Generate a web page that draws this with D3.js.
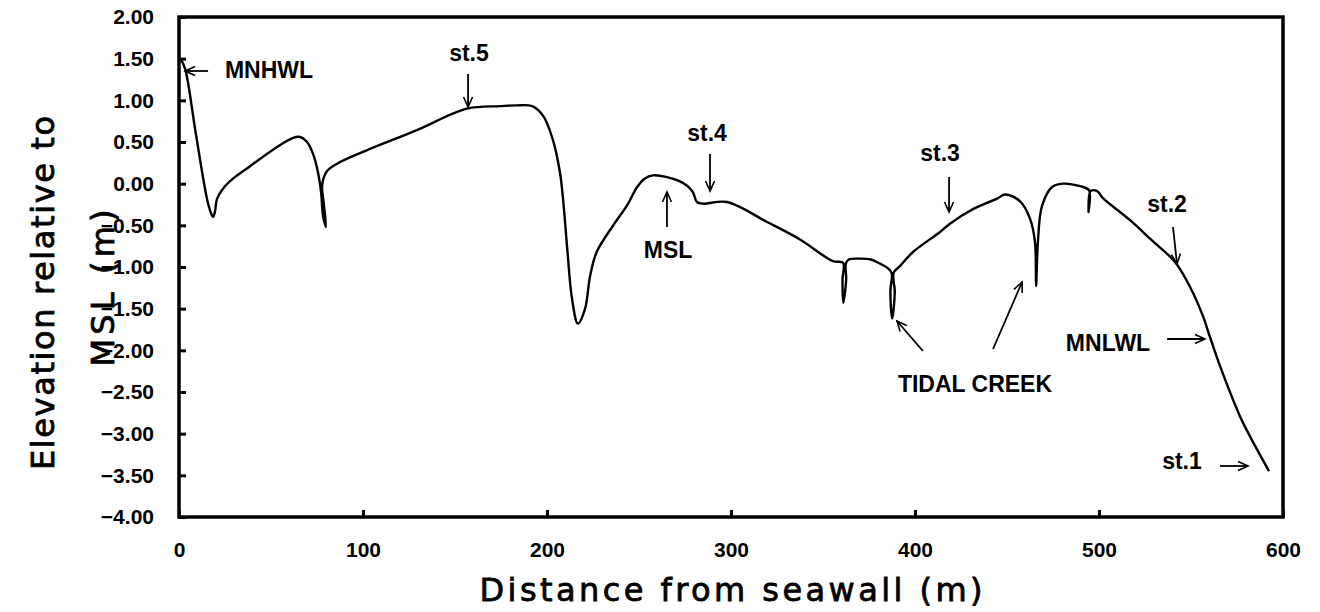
<!DOCTYPE html>
<html>
<head>
<meta charset="utf-8">
<script src="https://cdn.jsdelivr.net/npm/d3@7"></script>
<style>
    body { margin: 0; background: #fff; }
    svg { display: block; }
</style>
</head>
<body>
<div id="chart"></div>
<script>
// beach profile, values (m from seawall, m rel. MSL)
const distance = [
    0.8, 3.3, 9.0, 15.2, 17.5, 18.5, 19.5, 20.7, 23.9, 29.3,
    38.6, 53.3, 62.0, 65.8, 69.6, 72.8, 75.5, 77.2, 78.3, 79.9,
    78.6, 77.8, 80.4, 85.9, 102.0, 129.0, 156.5, 174.5, 183.5, 192.0,
    198.0, 203.0, 207.0, 208.7, 211.0, 213.6, 216.8, 220.7, 223.4, 227.0,
    236.0, 243.5, 249.0, 253.0, 257.6, 272.0, 279.0, 281.5, 284.8, 297.8,
    319.6, 337.5, 355.4, 360.9, 360.6, 361.0, 362.6, 362.4, 364.0, 370.0,
    376.0, 381.0, 385.0, 387.3, 386.6, 387.6, 389.0, 388.4, 391.8, 398.9,
    413.6, 419.0, 432.0, 444.6, 449.0, 457.0, 462.5, 465.2, 465.8, 466.8,
    469.0, 474.5, 480.4, 489.7, 494.6, 494.3, 495.4, 499.0, 502.0, 517.5,
    527.7, 541.3, 549.5, 556.5, 560.3, 565.8, 576.6, 582.0, 592.4
];
const elevation = [
    1.50, 1.38, 0.62, -0.18, -0.36, -0.40, -0.34, -0.18, -0.06, 0.06,
    0.21, 0.44, 0.55, 0.56, 0.50, 0.36, 0.14, -0.10, -0.39, -0.52,
    -0.22, -0.02, 0.15, 0.24, 0.40, 0.64, 0.90, 0.93, 0.94, 0.93,
    0.81, 0.54, 0.14, -0.18, -0.78, -1.38, -1.68, -1.50, -1.11, -0.82,
    -0.50, -0.26, -0.04, 0.06, 0.10, 0.03, -0.09, -0.22, -0.24, -0.22,
    -0.46, -0.67, -0.93, -0.95, -1.15, -1.43, -1.15, -0.96, -0.91, -0.90,
    -0.91, -0.96, -1.01, -1.07, -1.30, -1.62, -1.30, -1.07, -0.99, -0.82,
    -0.58, -0.48, -0.30, -0.18, -0.13, -0.21, -0.42, -0.70, -1.23, -0.70,
    -0.27, -0.04, 0.00, -0.03, -0.08, -0.34, -0.09, -0.09, -0.17, -0.45,
    -0.66, -0.94, -1.24, -1.59, -1.84, -2.19, -2.79, -3.03, -3.45
];

const xTicks = [0, 100, 200, 300, 400, 500, 600];
const yTicks = [2, 1.5, 1, 0.5, 0, -0.5, -1, -1.5, -2, -2.5, -3, -3.5, -4];

// annotations, in data units (text baseline centre)
const labelText = ["MNHWL", "st.5", "st.4", "MSL", "st.3", "st.2", "MNLWL", "TIDAL CREEK", "st.1"];
const labelX = [48.9, 157.6, 287.0, 265.8, 413.6, 537.0, 504.9, 432.6, 545.1];
const labelY = [1.268, 1.472, 0.512, -0.892, 0.272, -0.34, -2.008, -2.50, -3.424];

// arrows: tail x, tail y, head x, head y
const arrows = [
    [15.8, 1.352, 3.3, 1.352],
    [157.1, 1.316, 157.1, 0.92],
    [288.6, 0.356, 288.6, -0.088],
    [265.2, -0.52, 265.2, -0.10],
    [418.5, 0.08, 418.5, -0.34],
    [540.2, -0.52, 542.4, -0.964],
    [537.0, -1.864, 557.6, -1.864],
    [404.3, -2.008, 390.2, -1.648],
    [442.4, -1.984, 458.2, -1.18],
    [565.8, -3.388, 581.0, -3.388]
];

const width = 1320;
const height = 612;
const margin = { top: 17, right: 37, bottom: 95, left: 179 };

const svg = d3.select("#chart")
    .append("svg")
    .attr("width", width)
    .attr("height", height);

const x = d3.scaleLinear()
    .domain([0, 600])
    .range([margin.left, width - margin.right]);

const y = d3.scaleLinear()
    .domain([-4, 2])
    .range([height - margin.bottom, margin.top]);

const labelFont = "Liberation Sans, Arial, sans-serif";
const titleFont = "DejaVu Sans, sans-serif";

// y axis, ticks pointing into the plot
const yAxis = svg.append("g")
    .attr("transform", `translate(${margin.left},0)`)
    .call(d3.axisLeft(y)
        .tickValues(yTicks)
        .tickFormat(d3.format(".2f"))
        .tickSizeInner(-7)
        .tickSizeOuter(0)
        .tickPadding(25));

const xAxis = svg.append("g")
    .attr("transform", `translate(0,${height - margin.bottom})`)
    .call(d3.axisBottom(x)
        .tickValues(xTicks)
        .tickSizeInner(-7)
        .tickSizeOuter(0)
        .tickPadding(25));

[xAxis, yAxis].forEach(g => {
    g.select(".domain").remove();
    g.selectAll(".tick line")
        .attr("stroke", "#000")
        .attr("stroke-width", 3);
    g.selectAll(".tick text")
        .attr("fill", "#000")
        .style("font-family", labelFont)
        .style("font-weight", "bold")
        .style("font-size", "21px");
});

// frame
svg.append("rect")
    .attr("x", x(0))
    .attr("y", y(2))
    .attr("width", x(600) - x(0))
    .attr("height", y(-4) - y(2))
    .attr("fill", "none")
    .attr("stroke", "#000")
    .attr("stroke-width", 3.5);

// profile
const points = distance.map((d, i) => [d, elevation[i]]);

svg.append("path")
    .datum(points)
    .attr("fill", "none")
    .attr("stroke", "#000")
    .attr("stroke-width", 2.4)
    .attr("stroke-linejoin", "round")
    .attr("d", d3.line()
        .x(d => x(d[0]))
        .y(d => y(d[1]))
        .curve(d3.curveCatmullRom.alpha(0.5)));

// arrow heads
svg.append("defs")
    .append("marker")
    .attr("id", "head")
    .attr("viewBox", "-12 -6 14 12")
    .attr("refX", 0)
    .attr("refY", 0)
    .attr("markerWidth", 14)
    .attr("markerHeight", 12)
    .attr("markerUnits", "userSpaceOnUse")
    .attr("orient", "auto")
    .append("path")
    .attr("d", "M-10,-4.5L0,0L-10,4.5")
    .attr("fill", "none")
    .attr("stroke", "#000")
    .attr("stroke-width", 1.6);

svg.append("g")
    .selectAll("line")
    .data(arrows)
    .join("line")
    .attr("x1", d => x(d[0]))
    .attr("y1", d => y(d[1]))
    .attr("x2", d => x(d[2]))
    .attr("y2", d => y(d[3]))
    .attr("stroke", "#000")
    .attr("stroke-width", 1.8)
    .attr("marker-end", "url(#head)");

svg.append("g")
    .selectAll("text")
    .data(labelText)
    .join("text")
    .attr("x", (d, i) => x(labelX[i]))
    .attr("y", (d, i) => y(labelY[i]))
    .attr("text-anchor", "middle")
    .style("font-family", labelFont)
    .style("font-weight", "bold")
    .style("font-size", "23px")
    .text(d => d);

// axis titles
svg.append("text")
    .attr("x", (x(0) + x(600)) / 2)
    .attr("y", 601)
    .attr("text-anchor", "middle")
    .attr("textLength", 503)
    .attr("lengthAdjust", "spacing")
    .attr("stroke", "#000")
    .attr("stroke-width", 0.8)
    .style("font-family", titleFont)
    .style("font-size", "32px")
    .text("Distance from seawall (m)");

const yTitle = svg.append("g")
    .attr("stroke", "#000")
    .attr("stroke-width", 0.8)
    .style("font-family", titleFont)
    .style("font-size", "32px");

yTitle.append("text")
    .attr("transform", "translate(54,293) rotate(-90)")
    .attr("text-anchor", "middle")
    .attr("textLength", 354)
    .attr("lengthAdjust", "spacing")
    .text("Elevation relative to");

yTitle.append("text")
    .attr("transform", "translate(114,288) rotate(-90)")
    .attr("text-anchor", "middle")
    .attr("textLength", 157)
    .attr("lengthAdjust", "spacing")
    .text("MSL (m)");
</script>
</body>
</html>
